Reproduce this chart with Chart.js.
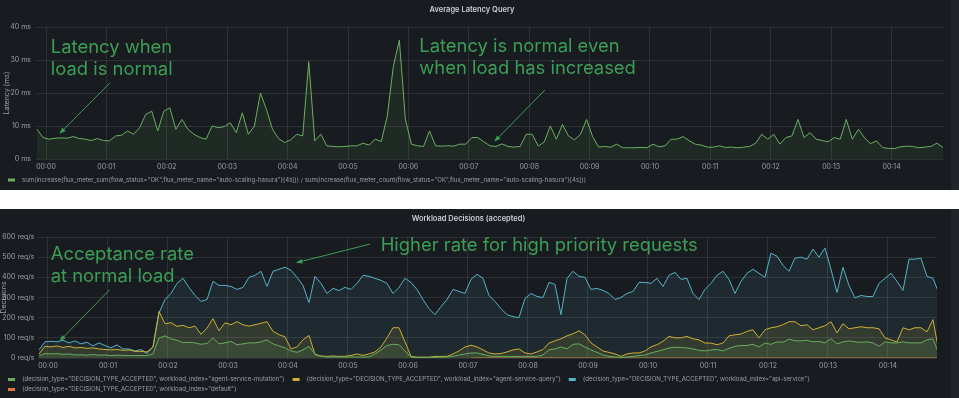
<!DOCTYPE html>
<html>
<head>
<meta charset="utf-8">
<script src="https://cdn.jsdelivr.net/npm/chart.js@4.4.0/dist/chart.umd.min.js"></script>
<style>
  html, body { margin: 0; padding: 0; background: #fff; }
  body { width: 959px; height: 398px; position: relative; overflow: hidden; }
  .panel { position: absolute; left: 0; width: 951px; background: #181b1f; }
  .strip { position: absolute; left: 951px; width: 8px; background: #222429; }
  #p1 { top: 0; height: 190px; }
  #p2 { top: 209px; height: 189px; }
</style>
</head>
<body>
<div class="panel" id="p1"><canvas id="latency" width="951" height="190"></canvas></div>
<div class="strip" style="top:0;height:190px"></div>
<div class="panel" id="p2"><canvas id="decisions" width="951" height="189"></canvas></div>
<div class="strip" style="top:209px;height:189px"></div>
<script>
// samples every 0.1 min, first sample at -0.15 min (00:00 = 0)
const firstMinute = -0.15;
const minuteStep = 0.1;

// Average Latency Query (ms)
const latencyMs = [
  9, 6.5, 6.0, 6.3, 6.4, 6.3, 6.8, 6.2, 6.0, 5.6,
  6.2, 5.6, 5.5, 7.0, 7.2, 8.5, 7.5, 9.5, 13.5, 14.5,
  8.5, 14.5, 15.5, 9, 12, 9, 7.5, 6.5, 6.0, 10.0,
  9.5, 9.8, 11, 8, 14, 7.5, 10, 20,
  15, 9, 6.2, 5, 5.8, 7.5, 7, 29.5, 5.5, 7.5,
  4, 3.8, 3.7, 3.8, 4.0, 4.0, 4.8, 4.2, 6, 5.3,
  13, 28, 36, 12, 4.5, 4.0, 3.8, 8.5, 4.0, 3.9,
  4.0, 3.9, 4.5, 4.5, 6.5, 6.5, 5.2, 4.0,
  3.8, 4.6, 3.8, 3.6, 3.8, 7.5, 7.5, 3.9, 5.2, 10,
  6, 10.5, 7, 5.8, 7.5, 12, 6.8, 3.6, 3.8, 3.6,
  4.5, 3.4, 3.4, 3.4, 3.5, 3.4, 4.5, 3.7, 4.0, 6.0,
  6.0, 6.8, 5.5, 4.5, 4.2, 3.6, 3.6, 4.0,
  3.5, 3.6, 3.4, 3.6, 3.8, 4.8, 7.5, 6.0, 7.5, 4.5,
  6.5, 7.0, 12, 6.5, 8.0, 6, 5.6, 5.2, 6.5, 6,
  12, 6.0, 9, 6.5, 4.6, 5.5, 3.5, 3.2, 3.2, 3.7,
  3.9, 3.8, 3.4, 3.6, 3.8, 4.8, 3.5
];

// Workload Decisions (accepted), req/s
const mutationReqs = [
  10, 22, 20, 22, 18, 20, 15, 16, 14, 17,
  14, 15, 12, 14, 13, 12, 12, 12, 12, 20,
  99, 110, 95, 88, 76, 78, 75, 68, 72, 100,
  70, 75, 82, 66, 70, 75, 75, 80,
  90, 70, 60, 50, 35, 28, 40, 58, 20, 8,
  5, 5, 5, 5, 5, 5, 5, 5, 20, 40,
  62, 68, 66, 35, 5, 3, 3, 3, 3, 4,
  5, 8, 15, 20, 25, 25, 18, 10,
  8, 8, 8, 8, 8, 8, 8, 8, 15, 41,
  45, 55, 45, 68, 70, 55, 40, 28, 15, 8,
  5, 3, 5, 8, 12, 15, 25, 33, 40, 50,
  53, 52, 50, 45, 38, 35, 40, 42,
  35, 48, 58, 62, 62, 68, 55, 74, 68, 80,
  78, 94, 85, 85, 88, 80, 82, 75, 96, 70,
  80, 85, 80, 78, 80, 75, 58, 80, 75, 75,
  80, 75, 75, 75, 90, 95, 20
];
const queryReqs = [
  20, 58, 55, 60, 52, 58, 50, 52, 48, 50,
  45, 42, 40, 42, 38, 40, 33, 33, 30, 55,
  231, 170, 175, 157, 162, 150, 158, 118, 148, 195,
  135, 175, 165, 180, 165, 158, 165, 172,
  180, 132, 116, 105, 45, 55, 90, 112, 17, 10,
  8, 10, 8, 8, 13, 20, 13, 20, 30, 55,
  100, 150, 150, 80, 8, 4, 4, 4, 8, 8,
  8, 20, 35, 55, 63, 55, 40, 25,
  20, 22, 30, 40, 45, 25, 20, 30, 42, 74,
  85, 95, 110, 120, 135, 115, 75, 55, 35, 28,
  20, 8, 20, 25, 25, 35, 55, 66, 83, 107,
  100, 100, 107, 95, 90, 74, 74, 66,
  74, 110, 115, 119, 132, 140, 100, 140, 150, 155,
  165, 180, 180, 160, 165, 140, 150, 160, 180, 125,
  170, 145, 150, 155, 150, 150, 145, 100, 90, 80,
  150, 140, 150, 150, 130, 190, 30
];
const apiReqs = [
  40, 80, 83, 80, 88, 75, 85, 70, 78, 60,
  75, 62, 50, 65, 45, 45, 35, 42, 22, 55,
  223, 290, 320, 370, 395, 350, 310, 281, 290, 380,
  360, 360, 355, 340, 350, 400, 410, 430,
  355, 430, 440, 450, 435, 400, 360, 275, 405, 370,
  320, 345, 335, 350, 340, 370, 410, 405, 395, 385,
  370, 320, 350, 395, 375, 340, 290, 245, 215, 255,
  290, 340, 330, 320, 390, 415, 395, 310,
  280, 245, 215, 205, 200, 295, 320, 305, 300, 375,
  365, 215, 395, 430, 405, 400, 340, 345, 335, 320,
  290, 300, 320, 330, 375, 375, 370, 395, 355, 410,
  425, 390, 395, 320, 290, 340, 370, 410,
  430, 390, 320, 380, 420, 440, 420, 400, 520, 505,
  460, 430, 495, 500, 490, 540, 500, 545, 440, 325,
  450, 360, 298, 310, 305, 305, 370, 395, 420, 380,
  335, 490, 490, 495, 405, 395, 320
];
const defaultReqs = [
  null, null, null, null, null, null, null, null, null, null,
  null, null, null, null, null, null, null, null, null, null,
  null, null, null, null, null, null, null, null, null, null,
  null, null, null, null, null, null, null, null, null, null,
  null, null, null, null, null, null, null, null, null, null,
  null, null, null, null, null, null, null, null, null, null,
  null, null, null, null, null, null, null, null, null, null,
  null, null, 0, 0, 0, 0, 0, 0, 0, 0,
  0, 0, 0, 0, 0, 0, 0, 0, 0, 0,
  0, 0, 0, 0, 0, 0, 0, 0, 0, 0,
  0, 0, 0, 0, 0, 0, 0, 0, 0, 0,
  0, 0, 0, 0, 0, 0, 0, 0, 0, 0,
  0, 0, 0, 0, 0, 0, 0, 0, 0, 0,
  0, 0, 0, 0, 0, 0, 0, 0, 0, 0,
  0, 0, 0, 0, 0, 0, 0, 0, 0, 0,
  0
];

const latencyTicks = [0, 10, 20, 30, 40];
const decisionTicks = [0, 100, 200, 300, 400, 500, 600];

const latencyLabel = 'sum(increase(flux_meter_sum{flow_status="OK",flux_meter_name="auto-scaling-hasura"}[4s])) / sum(increase(flux_meter_count{flow_status="OK",flux_meter_name="auto-scaling-hasura"}[4s]))';
const decisionLabels = [
  '{decision_type="DECISION_TYPE_ACCEPTED", workload_index="agent-service-mutation"}',
  '{decision_type="DECISION_TYPE_ACCEPTED", workload_index="agent-service-query"}',
  '{decision_type="DECISION_TYPE_ACCEPTED", workload_index="api-service"}',
  '{decision_type="DECISION_TYPE_ACCEPTED", workload_index="default"}'
];

// callouts, placed in data units of each chart
const latencyNotes = [
  { lines: ['Latency when', 'load is normal'], x: 0.08, y: 32.2 },
  { lines: ['Latency is normal even', 'when load has increased'], x: 6.18, y: 32.3 }
];
const latencyArrows = [
  { from: [1.06, 23.1], to: [0.22, 7.6] },
  { from: [8.26, 20.9], to: [7.42, 5.2] }
];
const decisionNotes = [
  { lines: ['Acceptance rate', 'at normal load'], x: 0.045, y: 486 },
  { lines: ['Higher rate for high priority requests'], x: 5.545, y: 532 }
];
const decisionArrows = [
  { from: [1.03, 339], to: [0.19, 83] },
  { from: [5.37, 565], to: [4.13, 472] }
];

const toPoints = vals => vals.map((v, i) => ({ x: firstMinute + i * minuteStep, y: v }));
const mm = v => '00:' + String(v).padStart(2, '0');

const TEXT = 'rgba(204,204,220,0.72)';
const GRID = 'rgba(204,204,220,0.12)';
const NOTE = '#3b9e57';

const grafanaLegend = {
  id: 'grafanaLegend',
  afterDraw(chart, args, opts) {
    const ctx = chart.ctx;
    ctx.save();
    ctx.font = '6.1px Inter';
    ctx.textBaseline = 'middle';
    ctx.textAlign = 'left';
    let x = 8, y = opts.top;
    chart.data.datasets.forEach(ds => {
      const w = 14 + ctx.measureText(ds.label).width;
      if (x > 8 && x + w > chart.width - 8) { x = 8; y += 10; }
      ctx.fillStyle = ds.borderColor;
      ctx.fillRect(x, y - 1.5, 7, 3);
      ctx.fillStyle = TEXT;
      ctx.fillText(ds.label, x + 14, y);
      x += w + 8;
    });
    ctx.restore();
  }
};

const callouts = {
  id: 'callouts',
  afterDatasetsDraw(chart, args, opts) {
    const { ctx, scales: { x, y } } = chart;
    ctx.save();
    ctx.fillStyle = NOTE;
    ctx.strokeStyle = NOTE;
    ctx.font = '18.4px Inter';
    ctx.textBaseline = 'alphabetic';
    opts.notes.forEach(n => {
      const px = x.getPixelForValue(n.x), py = y.getPixelForValue(n.y);
      n.lines.forEach((line, i) => ctx.fillText(line, px, py + i * 22));
    });
    ctx.lineWidth = 1;
    opts.arrows.forEach(a => {
      const x1 = x.getPixelForValue(a.from[0]), y1 = y.getPixelForValue(a.from[1]);
      const x2 = x.getPixelForValue(a.to[0]), y2 = y.getPixelForValue(a.to[1]);
      const ang = Math.atan2(y2 - y1, x2 - x1);
      ctx.beginPath();
      ctx.moveTo(x1, y1);
      ctx.lineTo(x2 - 4 * Math.cos(ang), y2 - 4 * Math.sin(ang));
      ctx.stroke();
      ctx.beginPath();
      ctx.moveTo(x2, y2);
      ctx.lineTo(x2 - 7 * Math.cos(ang - 0.35), y2 - 7 * Math.sin(ang - 0.35));
      ctx.lineTo(x2 - 7 * Math.cos(ang + 0.35), y2 - 7 * Math.sin(ang + 0.35));
      ctx.closePath();
      ctx.fill();
    });
    ctx.restore();
  }
};

function xAxis(min, max) {
  return {
    type: 'linear', min, max,
    afterFit: s => { s.height = 17; },
    afterBuildTicks: s => { s.ticks = s.ticks.filter(t => Number.isInteger(t.value)); },
    ticks: { stepSize: 1, includeBounds: false, padding: 4, color: TEXT, font: { family: 'Inter', size: 7 }, maxRotation: 0, callback: mm },
    grid: { color: GRID, drawTicks: false },
    border: { display: false }
  };
}

function line(label, data, color, fillAlpha) {
  return {
    label, data: toPoints(data),
    borderColor: color, borderWidth: 1,
    backgroundColor: color.replace('rgb(', 'rgba(').replace(')', ',' + fillAlpha + ')'),
    fill: 'origin', pointRadius: 0, tension: 0, spanGaps: false
  };
}

Chart.defaults.font.family = 'Inter';
Chart.defaults.animation = false;

new Chart(document.getElementById('latency'), {
  type: 'line',
  data: { datasets: [line(latencyLabel, latencyMs, 'rgb(106,176,96)', 0.1)] },
  options: {
    responsive: false,
    devicePixelRatio: 1,
    layout: { padding: { left: 0, right: 7, top: 0, bottom: 14 } },
    plugins: {
      legend: { display: false },
      tooltip: { enabled: false },
      title: { display: true, text: 'Average Latency Query', color: '#ccccdc', font: { size: 7.5, weight: '600' }, padding: { top: 5, bottom: 13 } },
      grafanaLegend: { top: 180 },
      callouts: { notes: latencyNotes, arrows: latencyArrows }
    },
    scales: {
      x: xAxis(-0.166, 14.868),
      y: {
        min: 0, max: 40,
        afterFit: s => { s.width = 36; },
        afterBuildTicks: s => { s.ticks = latencyTicks.map(v => ({ value: v })); },
        ticks: { padding: 5, color: TEXT, font: { size: 7 }, callback: v => v + ' ms' },
        title: { display: true, text: 'Latency (ms)', color: TEXT, font: { size: 7 }, padding: { top: 3, bottom: 0 } },
        grid: { color: GRID, drawTicks: false },
        border: { display: false }
      }
    }
  },
  plugins: [grafanaLegend, callouts]
});

new Chart(document.getElementById('decisions'), {
  type: 'line',
  data: {
    datasets: [
      line(decisionLabels[0], mutationReqs, 'rgb(106,172,94)', 0.13),
      line(decisionLabels[1], queryReqs, 'rgb(204,176,52)', 0.13),
      line(decisionLabels[2], apiReqs, 'rgb(84,180,200)', 0.1),
      line(decisionLabels[3], defaultReqs, 'rgb(226,122,52)', 0.1)
    ]
  },
  options: {
    responsive: false,
    devicePixelRatio: 1,
    layout: { padding: { left: 0, right: 14, top: 0, bottom: 23 } },
    plugins: {
      legend: { display: false },
      tooltip: { enabled: false },
      title: { display: true, text: 'Workload Decisions (accepted)', color: '#ccccdc', font: { size: 7.5, weight: '600' }, padding: { top: 5, bottom: 14 } },
      grafanaLegend: { top: 170.5 },
      callouts: { notes: decisionNotes, arrows: decisionArrows }
    },
    scales: {
      x: xAxis(-0.175, 14.817),
      y: {
        min: 0, max: 600,
        afterFit: s => { s.width = 37.5; },
        afterBuildTicks: s => { s.ticks = decisionTicks.map(v => ({ value: v })); },
        ticks: { padding: 3, color: TEXT, font: { size: 7 }, callback: v => v + ' req/s' },
        title: { display: true, text: 'Decisions', color: TEXT, font: { size: 7 }, padding: { top: 0, bottom: 0 } },
        grid: { color: GRID, drawTicks: false },
        border: { display: false }
      }
    }
  },
  plugins: [grafanaLegend, callouts]
});
</script>
</body>
</html>
